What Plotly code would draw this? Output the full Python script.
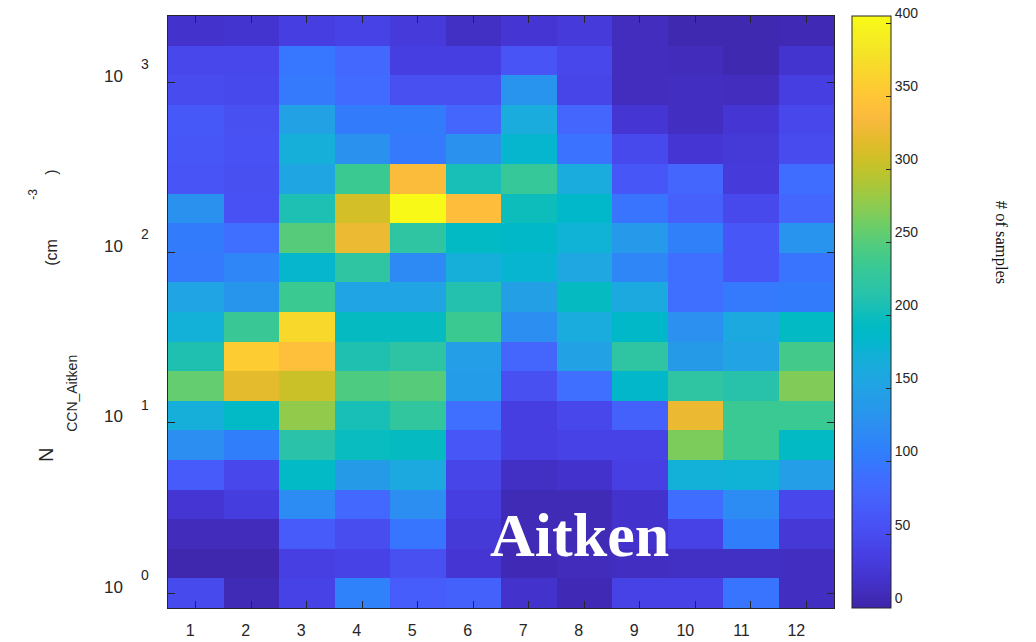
import numpy as np
import plotly.graph_objects as go

# ---------------- data ----------------
months = [1, 2, 3, 4, 5, 6, 7, 8, 9, 10, 11, 12]
month_labels = ["1", "2", "3", "4", "5", "6", "7", "8", "9", "10", "11", "12"]

# bin centres of N_CCN_Aitken (cm^-3), bottom to top
bin_centers_cm3 = [1.0, 1.4918, 2.2255, 3.3201, 4.9530, 7.3891, 11.023, 16.445,
                   24.533, 36.598, 54.598, 81.451, 121.51, 181.27, 270.43,
                   403.43, 601.85, 897.85, 1339.4, 1998.2]

# number of samples, rows listed from TOP bin to BOTTOM bin, columns = months 1..12
counts_top_down = [
    [20, 22, 35, 40, 30, 15, 25, 30, 12, 5, 5, 7],
    [45, 45, 97, 82, 35, 35, 60, 45, 12, 10, 5, 22],
    [50, 47, 100, 86, 55, 55, 132, 42, 12, 13, 12, 35],
    [64, 55, 150, 103, 103, 80, 165, 80, 25, 14, 25, 45],
    [63, 57, 170, 128, 100, 128, 182, 93, 47, 25, 28, 50],
    [60, 55, 155, 235, 338, 205, 230, 165, 63, 80, 30, 88],
    [128, 58, 208, 310, 403, 341, 200, 186, 95, 73, 47, 80],
    [103, 90, 250, 326, 222, 192, 188, 175, 138, 108, 62, 132],
    [100, 115, 183, 222, 120, 170, 180, 158, 115, 90, 62, 95],
    [153, 133, 235, 153, 153, 212, 148, 195, 160, 90, 100, 103],
    [172, 233, 370, 195, 195, 235, 125, 165, 187, 127, 160, 192],
    [210, 356, 342, 210, 220, 145, 80, 150, 222, 142, 152, 240],
    [257, 320, 305, 246, 250, 143, 55, 90, 185, 222, 215, 270],
    [170, 190, 278, 205, 226, 90, 35, 45, 75, 325, 234, 234],
    [125, 105, 217, 197, 195, 62, 35, 40, 40, 268, 234, 192],
    [68, 45, 190, 142, 160, 42, 15, 20, 36, 172, 175, 145],
    [25, 33, 122, 82, 125, 35, 8, 8, 20, 88, 122, 45],
    [10, 10, 68, 52, 96, 28, 8, 8, 20, 40, 105, 27],
    [3, 3, 36, 40, 55, 25, 7, 10, 14, 15, 15, 13],
    [48, 8, 40, 110, 70, 75, 20, 7, 40, 40, 95, 14],
]

cbar_ticks = [0, 50, 100, 150, 200, 250, 300, 350, 400]
ytick_decades = [0, 1, 2, 3]
ytick_base = "10"
ytick_exps = ["0", "1", "2", "3"]

# ---------------- parula colormap ----------------
parula = [
    [0.2422, 0.1504, 0.6603], [0.2504, 0.1650, 0.7076], [0.2578, 0.1818, 0.7511],
    [0.2647, 0.1978, 0.7952], [0.2706, 0.2147, 0.8364], [0.2751, 0.2342, 0.8710],
    [0.2783, 0.2559, 0.8991], [0.2803, 0.2782, 0.9221], [0.2813, 0.3006, 0.9414],
    [0.2810, 0.3228, 0.9579], [0.2795, 0.3447, 0.9717], [0.2760, 0.3667, 0.9829],
    [0.2699, 0.3892, 0.9906], [0.2602, 0.4123, 0.9952], [0.2440, 0.4358, 0.9988],
    [0.2206, 0.4603, 0.9973], [0.1963, 0.4847, 0.9892], [0.1834, 0.5074, 0.9798],
    [0.1786, 0.5289, 0.9682], [0.1764, 0.5499, 0.9520], [0.1687, 0.5703, 0.9359],
    [0.1540, 0.5902, 0.9218], [0.1460, 0.6091, 0.9079], [0.1380, 0.6276, 0.8973],
    [0.1248, 0.6459, 0.8883], [0.1113, 0.6635, 0.8763], [0.0952, 0.6798, 0.8598],
    [0.0689, 0.6948, 0.8394], [0.0297, 0.7082, 0.8163], [0.0036, 0.7203, 0.7917],
    [0.0067, 0.7312, 0.7660], [0.0433, 0.7411, 0.7394], [0.0964, 0.7500, 0.7120],
    [0.1408, 0.7584, 0.6842], [0.1717, 0.7670, 0.6554], [0.1938, 0.7758, 0.6251],
    [0.2161, 0.7843, 0.5923], [0.2470, 0.7918, 0.5567], [0.2906, 0.7973, 0.5188],
    [0.3406, 0.8008, 0.4789], [0.3909, 0.8029, 0.4354], [0.4456, 0.8024, 0.3909],
    [0.5044, 0.7993, 0.3480], [0.5616, 0.7942, 0.3045], [0.6174, 0.7876, 0.2612],
    [0.6720, 0.7793, 0.2227], [0.7242, 0.7698, 0.1910], [0.7738, 0.7598, 0.1646],
    [0.8203, 0.7498, 0.1535], [0.8634, 0.7406, 0.1596], [0.9035, 0.7330, 0.1774],
    [0.9393, 0.7288, 0.2100], [0.9728, 0.7298, 0.2394], [0.9956, 0.7434, 0.2371],
    [0.9970, 0.7659, 0.2199], [0.9952, 0.7893, 0.2028], [0.9892, 0.8136, 0.1885],
    [0.9786, 0.8386, 0.1766], [0.9676, 0.8639, 0.1643], [0.9610, 0.8890, 0.1537],
    [0.9597, 0.9135, 0.1423], [0.9628, 0.9373, 0.1265], [0.9691, 0.9606, 0.1064],
    [0.9769, 0.9839, 0.0805],
]
n = len(parula)
colorscale = [[i / (n - 1), "rgb(%d,%d,%d)" % tuple(int(round(c * 255)) for c in rgb)]
              for i, rgb in enumerate(parula)]

# ---------------- figure ----------------
z = counts_top_down[::-1]  # bottom to top
ylog = np.log10(np.array(bin_centers_cm3))

AX = "#262626"
SANS = "Liberation Sans, Arial, sans-serif"
SERIF = "Liberation Serif, Times New Roman, serif"

fig = go.Figure()
fig.add_trace(go.Heatmap(
    x=months, y=ylog, z=z,
    colorscale=colorscale, zmin=0, zmax=405,
    colorbar=dict(
        x=1.0277, xanchor="left", xpad=0, ypad=0,
        y=0.5, yanchor="middle", len=1.0, lenmode="fraction",
        thickness=39, outlinewidth=1, outlinecolor=AX,
        tickmode="array", tickvals=cbar_ticks,
        ticks="inside", ticklen=5, tickcolor=AX,
        ticklabelposition="outside top",
        tickfont=dict(family=SANS, size=14, color=AX),
    ),
    hoverinfo="skip",
))

fig.update_xaxes(
    range=[0.5, 12.5], tickmode="array", tickvals=months, ticktext=month_labels,
    ticks="inside", ticklen=7, tickcolor=AX, tickwidth=1,
    showline=True, linecolor=AX, linewidth=1, mirror="ticks",
    showgrid=False, zeroline=False, automargin=False,
    ticklabelposition="outside left", ticklabelstandoff=8,
    tickfont=dict(family=SANS, size=16, color=AX),
)
fig.update_yaxes(
    range=[ylog[0] - (ylog[1] - ylog[0]) / 2, ylog[-1] + (ylog[1] - ylog[0]) / 2],
    tickmode="array", tickvals=ytick_decades, showticklabels=False,
    ticks="inside", ticklen=7, tickcolor=AX, tickwidth=1,
    showline=True, linecolor=AX, linewidth=1, mirror="ticks",
    showgrid=False, zeroline=False, automargin=False,
)

annotations = []
for val, ex in zip(ytick_decades, ytick_exps):
    annotations.append(dict(text=ytick_base, xref="paper", yref="y", x=0, y=val,
                            xanchor="center", yanchor="middle", xshift=-55, yshift=6,
                            showarrow=False, font=dict(family=SANS, size=17, color=AX)))
    annotations.append(dict(text=ex, xref="paper", yref="y", x=0, y=val,
                            xanchor="center", yanchor="middle", xshift=-23, yshift=18,
                            showarrow=False, font=dict(family=SANS, size=14, color=AX)))

W, H = 1036, 642
ML, MR, MT, MB = 167.5, 201.5, 16, 34.3
PW, PH = W - ML - MR, H - MT - MB


def px(xp, yp):
    return (xp - ML) / PW, 1 - (yp - MT) / PH


# y-axis label pieces (MATLAB-style broken rendering)
ylabel_parts = [("N", 46, 455, 20), ("CCN_Aitken", 72, 393, 14), ("(cm", 50, 252, 16),
                ("-3", 32, 194, 12), (")", 50, 172, 16)]
for txt, xp, yp, fs in ylabel_parts:
    ax_, ay_ = px(xp, yp)
    annotations.append(dict(text=txt, xref="paper", yref="paper", x=ax_, y=ay_,
                            xanchor="center", yanchor="middle", textangle=-90,
                            showarrow=False, font=dict(family=SANS, size=fs, color=AX)))

# colorbar label
cx, cy = px(1003, 242)
annotations.append(dict(text="# of samples", xref="paper", yref="paper", x=cx, y=cy,
                        xanchor="center", yanchor="middle", textangle=90, showarrow=False,
                        font=dict(family=SERIF, size=16.5, color="#111111")))

# panel label
tx, ty = px(580, 535)
annotations.append(dict(text="<b>Aitken</b>", xref="paper", yref="paper", x=tx, y=ty,
                        xanchor="center", yanchor="middle", showarrow=False,
                        font=dict(family=SERIF, size=62, color="white")))

fig.update_layout(
    width=W, height=H,
    margin=dict(l=ML, r=MR, t=MT, b=MB, pad=0, autoexpand=False),
    paper_bgcolor="white", plot_bgcolor="white",
    annotations=annotations,
    showlegend=False,
)

fig.write_html(
    "out.html",
    config={"displayModeBar": False, "staticPlot": True},
    post_script="document.body.style.margin='0px';document.body.style.overflow='hidden';",
)
